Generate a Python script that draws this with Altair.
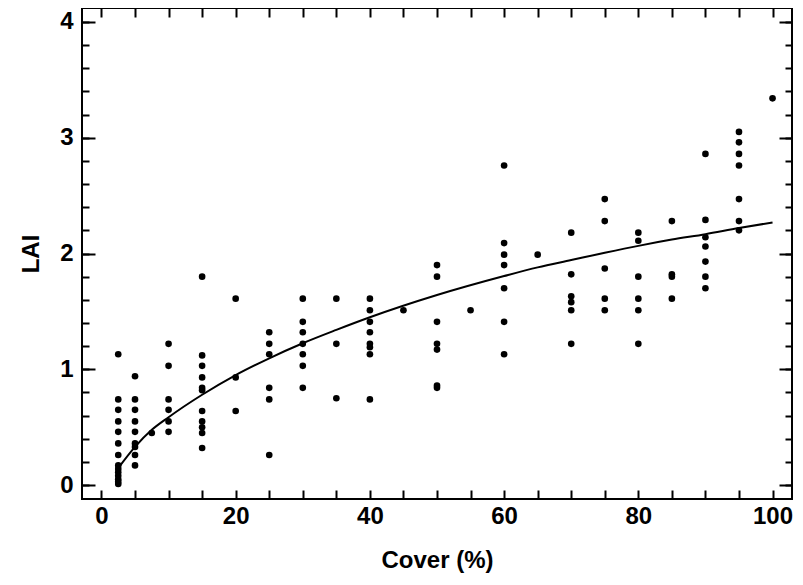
import altair as alt
import pandas as pd

# Observed LAI vs cover (%)
cover_pct = (
    [2.5] * 14
    + [5] * 9
    + [7.5]
    + [10] * 6
    + [15] * 11
    + [20] * 3
    + [25] * 6
    + [30] * 7
    + [35] * 3
    + [40] * 8
    + [45]
    + [50] * 7
    + [55]
    + [60] * 7
    + [65]
    + [70] * 6
    + [75] * 5
    + [80] * 6
    + [85] * 4
    + [90] * 7
    + [95] * 7
    + [100]
)
lai_obs = (
    [1.13, 0.74, 0.65, 0.55, 0.46, 0.36, 0.26, 0.17, 0.14, 0.11, 0.08, 0.05, 0.03, 0.01]
    + [0.94, 0.74, 0.65, 0.55, 0.46, 0.36, 0.33, 0.26, 0.17]
    + [0.45]
    + [1.22, 1.03, 0.74, 0.65, 0.55, 0.46]
    + [1.80, 1.12, 1.03, 0.93, 0.84, 0.82, 0.64, 0.55, 0.50, 0.45, 0.32]
    + [1.61, 0.93, 0.64]
    + [1.32, 1.22, 1.13, 0.84, 0.74, 0.26]
    + [1.61, 1.41, 1.32, 1.22, 1.13, 1.03, 0.84]
    + [1.61, 1.22, 0.75]
    + [1.61, 1.51, 1.41, 1.32, 1.22, 1.19, 1.13, 0.74]
    + [1.51]
    + [1.90, 1.80, 1.41, 1.22, 1.17, 0.86, 0.84]
    + [1.51]
    + [2.76, 2.09, 1.99, 1.90, 1.70, 1.41, 1.13]
    + [1.99]
    + [2.18, 1.82, 1.63, 1.58, 1.51, 1.22]
    + [2.47, 2.28, 1.87, 1.61, 1.51]
    + [2.18, 2.11, 1.80, 1.61, 1.51, 1.22]
    + [2.28, 1.82, 1.80, 1.61]
    + [2.86, 2.29, 2.14, 2.06, 1.93, 1.80, 1.70]
    + [3.05, 2.96, 2.86, 2.76, 2.47, 2.28, 2.20]
    + [3.34]
)

# Fitted curve
fit_cover = [2.5, 5, 7.5, 10, 15, 20, 25, 30, 35, 40, 50, 60, 65, 70, 75, 80, 85, 90, 95, 100]
fit_lai = [0.147, 0.33, 0.477, 0.586, 0.78, 0.95, 1.095, 1.225, 1.34, 1.449,
           1.641, 1.805, 1.88, 1.943, 2.006, 2.066, 2.12, 2.167, 2.22, 2.268]

# Tick values
x_ticks = [0, 5, 10, 15, 20, 25, 30, 35, 40, 45, 50, 55, 60, 65, 70, 75, 80, 85, 90, 95, 100]
y_major = [0, 1, 2, 3, 4]
y_minor = [0, 0.2, 0.4, 0.6, 0.8, 1, 1.2, 1.4, 1.6, 1.8, 2, 2.2, 2.4, 2.6, 2.8, 3,
           3.2, 3.4, 3.6, 3.8, 4]

X_DOMAIN = [-2.9, 102.9]
Y_DOMAIN = [-0.12, 4.12]
FONT = "Liberation Sans"

obs = pd.DataFrame({"cover": cover_pct, "lai": lai_obs})
fit = pd.DataFrame({"cover": fit_cover, "lai": fit_lai})

xs = alt.Scale(domain=X_DOMAIN, nice=False, zero=False)
ys = alt.Scale(domain=Y_DOMAIN, nice=False, zero=False)

points = alt.Chart(obs).mark_circle(size=44, color="black", opacity=1).encode(
    x=alt.X("cover:Q", scale=xs, axis=alt.Axis(
        orient="bottom", values=x_ticks, tickSize=9, offset=-9,
        labelExpr="datum.value % 20 === 0 ? datum.label : ''",
        labelPadding=5, labelFlush=False, title="Cover (%)", titlePadding=20)),
    y=alt.Y("lai:Q", scale=ys, axis=alt.Axis(
        orient="left", values=y_major, tickSize=13, offset=-13,
        labelPadding=9, title="LAI", titlePadding=16)),
)

line = alt.Chart(fit).mark_line(color="black", strokeWidth=2, interpolate="monotone").encode(
    x=alt.X("cover:Q", scale=xs, axis=alt.Axis(
        orient="top", values=x_ticks, tickSize=9, offset=-9, labels=False, title=None)),
    y=alt.Y("lai:Q", scale=ys, axis=alt.Axis(
        orient="right", values=y_major, tickSize=13, offset=-13, labels=False, title=None)),
)

minor_left = alt.Chart(fit).mark_line(opacity=0).encode(
    x=alt.X("cover:Q", scale=xs, axis=None),
    y=alt.Y("lai:Q", scale=ys, axis=alt.Axis(
        orient="left", values=y_minor, tickSize=7, offset=-7, labels=False, title=None)),
)

minor_right = alt.Chart(fit).mark_line(opacity=0).encode(
    x=alt.X("cover:Q", scale=xs, axis=None),
    y=alt.Y("lai:Q", scale=ys, axis=alt.Axis(
        orient="right", values=y_minor, tickSize=7, offset=-7, labels=False, title=None)),
)

chart = (
    alt.layer(points, line, minor_left, minor_right)
    .resolve_scale(x="independent", y="independent")
    .resolve_axis(x="independent", y="independent")
    .properties(
        width=710, height=491,
        autosize=alt.AutoSizeParams(type="none"),
        padding={"left": 74, "top": 0, "right": 3, "bottom": 80},
        background="white",
    )
    .configure_view(stroke="black", strokeWidth=2)
    .configure_axis(
        grid=False, domain=False, tickColor="black", tickWidth=2,
        labelFont=FONT, labelFontSize=24, labelFontWeight="bold", labelColor="black",
        titleFont=FONT, titleFontSize=24, titleFontWeight="bold", titleColor="black",
    )
)

chart.save("out.html", embed_options={"renderer": "svg", "actions": False})
